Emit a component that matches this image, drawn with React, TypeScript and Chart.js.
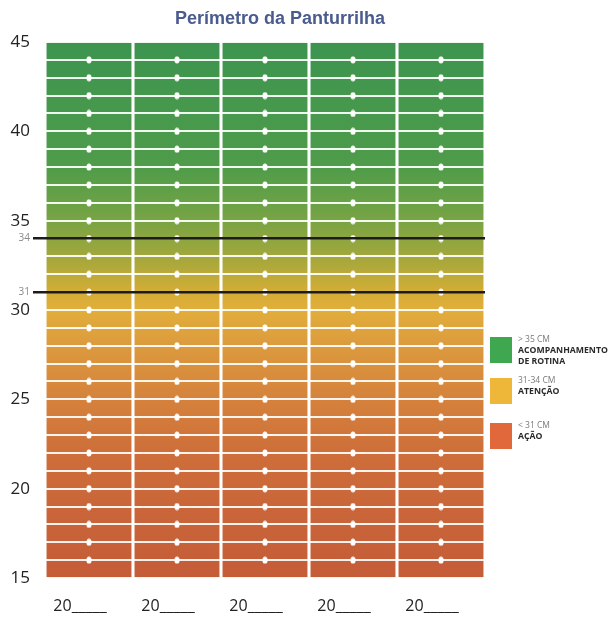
import { useEffect, useRef } from "react";
import { Chart, registerables } from "chart.js";

Chart.register(...registerables);

const TITLE = "Perímetro da Panturrilha";
const columnKeys = ["col1", "col2", "col3", "col4", "col5"];
const columnLabels = ["20_____", "20_____", "20_____", "20_____", "20_____"];
const columnRanges = [
  [15, 45],
  [15, 45],
  [15, 45],
  [15, 45],
  [15, 45],
];
const Y_MIN = 15;
const Y_MAX = 45;
const majorTicks = [15, 20, 25, 30, 35, 40, 45];
const thresholdLines = [34, 31];
const dotValues = [16, 17, 18, 19, 20, 21, 22, 23, 24, 25, 26, 27, 28, 29, 30, 31, 32, 33, 34, 35, 36, 37, 38, 39, 40, 41, 42, 43, 44];
const gradientValues = [45, 38, 35, 33, 31, 30, 28, 25, 22, 15];
const gradientColors = ["#3c944f", "#4f9c4a", "#78a444", "#a2a73c", "#d4ad36", "#e2ae3a", "#dc9a3e", "#d5823c", "#ce6e3a", "#c45c38"];
const legendRanges = ["> 35 CM", "31-34 CM", "< 31 CM"];
const legendLabels = [["ACOMPANHAMENTO", "DE ROTINA"], ["ATENÇÃO"], ["AÇÃO"]];
const legendColors = ["#3fa74f", "#efb73a", "#e0683a"];

const overlayPlugin = {
  id: "overlay",
  afterDraw(chart: any) {
    const ctx = chart.ctx;
    const area = chart.chartArea;
    ctx.save();
    ctx.font = "bold 18px 'Liberation Sans', Arial, sans-serif";
    ctx.fillStyle = "#4a5b8e";
    ctx.textAlign = "center";
    ctx.textBaseline = "middle";
    ctx.fillText(TITLE, (area.left + area.right) / 2 + 15, 19);
    const tops = [337, 378, 423];
    legendColors.forEach((c, i) => {
      const y0 = tops[i];
      ctx.fillStyle = c;
      ctx.fillRect(490, y0, 22, 26);
      ctx.textAlign = "left";
      ctx.textBaseline = "middle";
      ctx.fillStyle = "#7a7a7a";
      ctx.font = "8.5px 'Open Sans', sans-serif";
      ctx.fillText(legendRanges[i], 518, y0 + 3);
      ctx.fillStyle = "#2a2a2a";
      ctx.font = "bold 8.7px 'Open Sans', sans-serif";
      legendLabels[i].forEach((t, j) => {
        ctx.fillText(t, 518, y0 + 14 + j * 11);
      });
    });
    ctx.restore();
  },
};

function makeGradient(chart: any) {
  const ys = chart.scales?.y;
  const area = chart.chartArea;
  if (!ys || !area) return gradientColors[0];
  const top = ys.getPixelForValue(Y_MAX);
  const bottom = ys.getPixelForValue(Y_MIN);
  if (!isFinite(top) || !isFinite(bottom) || top === bottom) return gradientColors[0];
  const g = chart.ctx.createLinearGradient(0, top, 0, bottom);
  gradientValues.forEach((v, i) => {
    g.addColorStop((Y_MAX - v) / (Y_MAX - Y_MIN), gradientColors[i]);
  });
  return g;
}

function makeDotImage() {
  const c = document.createElement("canvas");
  c.width = 6;
  c.height = 8;
  const x = c.getContext("2d");
  if (x) {
    x.fillStyle = "#ffffff";
    x.beginPath();
    x.ellipse(3, 4, 2.6, 3.6, 0, 0, Math.PI * 2);
    x.fill();
  }
  return c;
}

export default function App() {
  const ref = useRef<HTMLCanvasElement | null>(null);
  useEffect(() => {
    if (!ref.current) return;
    const dots = columnKeys.flatMap((k) => dotValues.map((v) => ({ x: k, y: v })));
    const dotImg = makeDotImage();
    const chart = new Chart(ref.current, {
      type: "bar",
      data: {
        labels: columnKeys,
        datasets: [
          {
            type: "bar",
            data: columnRanges as any,
            backgroundColor: (c: any) => makeGradient(c.chart),
            borderWidth: 0,
            barPercentage: 0.965,
            categoryPercentage: 1,
            order: 2,
          } as any,
          {
            type: "line",
            data: dots as any,
            showLine: false,
            pointStyle: dotImg,
            pointRadius: 3,
            pointBackgroundColor: "#ffffff",
            pointBorderWidth: 0,
            order: 1,
          } as any,
        ],
      },
      options: {
        animation: false,
        responsive: true,
        maintainAspectRatio: false,
        layout: { padding: { top: 42, right: 126, left: 0, bottom: 0 } },
        plugins: { legend: { display: false }, tooltip: { enabled: false }, title: { display: false } },
        scales: {
          x: {
            grid: { display: false },
            border: { display: false },
            ticks: {
              color: "#222",
              font: { family: "'Open Sans', sans-serif", size: 16 },
              padding: 11,
              labelOffset: -9,
              maxRotation: 0,
              callback: (_v: any, i: number) => columnLabels[i],
            },
            afterFit(s: any) {
              s.height = 41;
            },
          },
          y: {
            min: Y_MIN,
            max: Y_MAX,
            border: { display: false },
            grid: {
              z: 1,
              color: (c: any) => (thresholdLines.includes(c.tick?.value) ? "#1c1c1c" : "rgba(255,255,255,0.92)"),
              lineWidth: (c: any) => (thresholdLines.includes(c.tick?.value) ? 2.5 : 2),
              tickColor: (c: any) => (thresholdLines.includes(c.tick?.value) ? "#1c1c1c" : "rgba(0,0,0,0)"),
              tickLength: 12,
              drawTicks: true,
            },
            ticks: {
              stepSize: 1,
              autoSkip: false,
              padding: 3,
              callback: (v: any) => (majorTicks.includes(v) || thresholdLines.includes(v) ? String(v) : ""),
              color: (c: any) => (thresholdLines.includes(c.tick?.value) ? "#888" : "#222"),
              font: (c: any) =>
                thresholdLines.includes(c.tick?.value)
                  ? { family: "'Open Sans', sans-serif", size: 10 }
                  : { family: "'Open Sans', sans-serif", size: 17 },
            },
            afterFit(s: any) {
              s.width = 45;
            },
          },
        },
      } as any,
      plugins: [overlayPlugin],
    });
    return () => chart.destroy();
  }, []);
  return (
    <div style={{ position: "fixed", left: 0, top: 0, width: 611, height: 619, background: "#fff" }}>
      <canvas ref={ref} />
    </div>
  );
}
